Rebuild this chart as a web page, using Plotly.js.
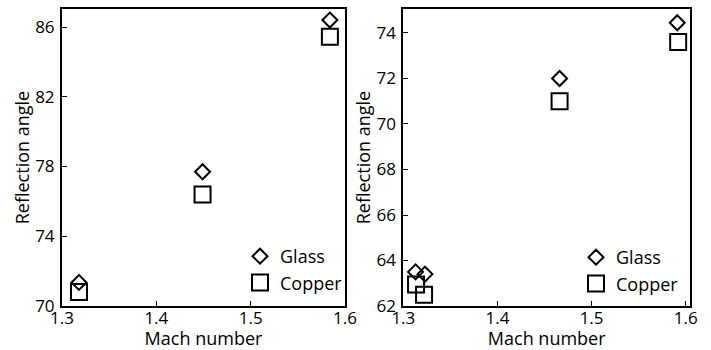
<!DOCTYPE html>
<html>
<head>
<meta charset="utf-8">
<script src="https://cdn.plot.ly/plotly-3.0.1.min.js"></script>
<style>html,body{margin:0;padding:0;background:#fff;}#chart{width:711px;height:350px;}</style>
</head>
<body>
<div id="chart"></div>
<script>
// Left panel
const leftGlassMach = [1.318, 1.449, 1.584];
const leftGlassAngle = [71.35, 77.7, 86.4];
const leftCopperMach = [1.318, 1.449, 1.584];
const leftCopperAngle = [70.8, 76.4, 85.45];
// Right panel
const rightGlassMach = [1.313, 1.323, 1.466, 1.591];
const rightGlassAngle = [63.5, 63.4, 72.0, 74.45];
const rightCopperMach = [1.3135, 1.322, 1.466, 1.592];
const rightCopperAngle = [62.95, 62.5, 71.0, 73.6];

const leftYTicks = [70, 74, 78, 82, 86];
const rightYTicks = [62, 64, 66, 68, 70, 72, 74];
const xTicks = [1.3, 1.4, 1.5, 1.6];

const FONT = '"Open Sans", "Noto Sans", sans-serif';
const TICK_FS = 17;
const TITLE_FS = 18;
const LEG_FS = 18;
const glassMarker = {symbol: 'diamond-open', size: 11.5, color: '#000', line: {color: '#000', width: 2}};
const copperMarker = {symbol: 'square-open', size: 16, color: '#000', line: {color: '#000', width: 2}};

const traces = [
  {x: leftGlassMach, y: leftGlassAngle, mode: 'markers', name: 'Glass', marker: glassMarker, xaxis: 'x', yaxis: 'y', legend: 'legend'},
  {x: leftCopperMach, y: leftCopperAngle, mode: 'markers', name: 'Copper', marker: copperMarker, xaxis: 'x', yaxis: 'y', legend: 'legend'},
  {x: rightGlassMach, y: rightGlassAngle, mode: 'markers', name: 'Glass', marker: glassMarker, xaxis: 'x2', yaxis: 'y2', legend: 'legend2'},
  {x: rightCopperMach, y: rightCopperAngle, mode: 'markers', name: 'Copper', marker: copperMarker, xaxis: 'x2', yaxis: 'y2', legend: 'legend2'}
];

function xAxis(domain, anchor, range) {
  return {
    domain: domain, anchor: anchor, range: range,
    tickvals: xTicks, ticktext: xTicks.map(v => v.toFixed(1)),
    ticks: 'inside', ticklen: 5, tickwidth: 1, tickcolor: '#000',
    showline: true, linecolor: '#000', linewidth: 2, mirror: true,
    showgrid: false, zeroline: false,
    tickfont: {family: FONT, size: TICK_FS, color: '#000'},
    ticklabelstandoff: -4,
    title: {text: 'Mach number', font: {family: FONT, size: TITLE_FS, color: '#000'}, standoff: 6},
    automargin: false
  };
}
function yAxis(domain, anchor, range, ticks) {
  return {
    domain: domain, anchor: anchor, range: range,
    tickvals: ticks,
    ticks: 'inside', ticklen: 5, tickwidth: 1, tickcolor: '#000',
    showline: true, linecolor: '#000', linewidth: 2, mirror: true,
    showgrid: false, zeroline: false,
    tickfont: {family: FONT, size: TICK_FS, color: '#000'},
    ticklabelstandoff: 2,
    title: {text: 'Reflection angle', font: {family: FONT, size: TITLE_FS, color: '#000'}, standoff: 1},
    automargin: false
  };
}

const legendStyle = {
  font: {family: FONT, size: LEG_FS, color: '#000'},
  bgcolor: 'rgba(0,0,0,0)', borderwidth: 0,
  xanchor: 'left', yanchor: 'top', itemwidth: 30, tracegroupgap: 0
};

const layout = {
  width: 711, height: 350,
  margin: {l: 0, r: 0, t: 0, b: 0},
  paper_bgcolor: '#fff', plot_bgcolor: '#fff',
  showlegend: true,
  xaxis: xAxis([0.0872, 0.4852], 'y', [1.3, 1.6]),
  yaxis: yAxis([0.1257, 0.974], 'x', [70, 87.03], leftYTicks),
  xaxis2: xAxis([0.5673, 0.9705], 'y2', [1.3, 1.6046]),
  yaxis2: yAxis([0.1257, 0.974], 'x2', [62, 75.05], rightYTicks),
  legend: Object.assign({x: 240/711, y: 1 - 238/350}, legendStyle),
  legend2: Object.assign({x: 576/711, y: 1 - 239/350}, legendStyle)
};

Plotly.newPlot('chart', traces, layout, {staticPlot: true, displayModeBar: false});
</script>
</body>
</html>
